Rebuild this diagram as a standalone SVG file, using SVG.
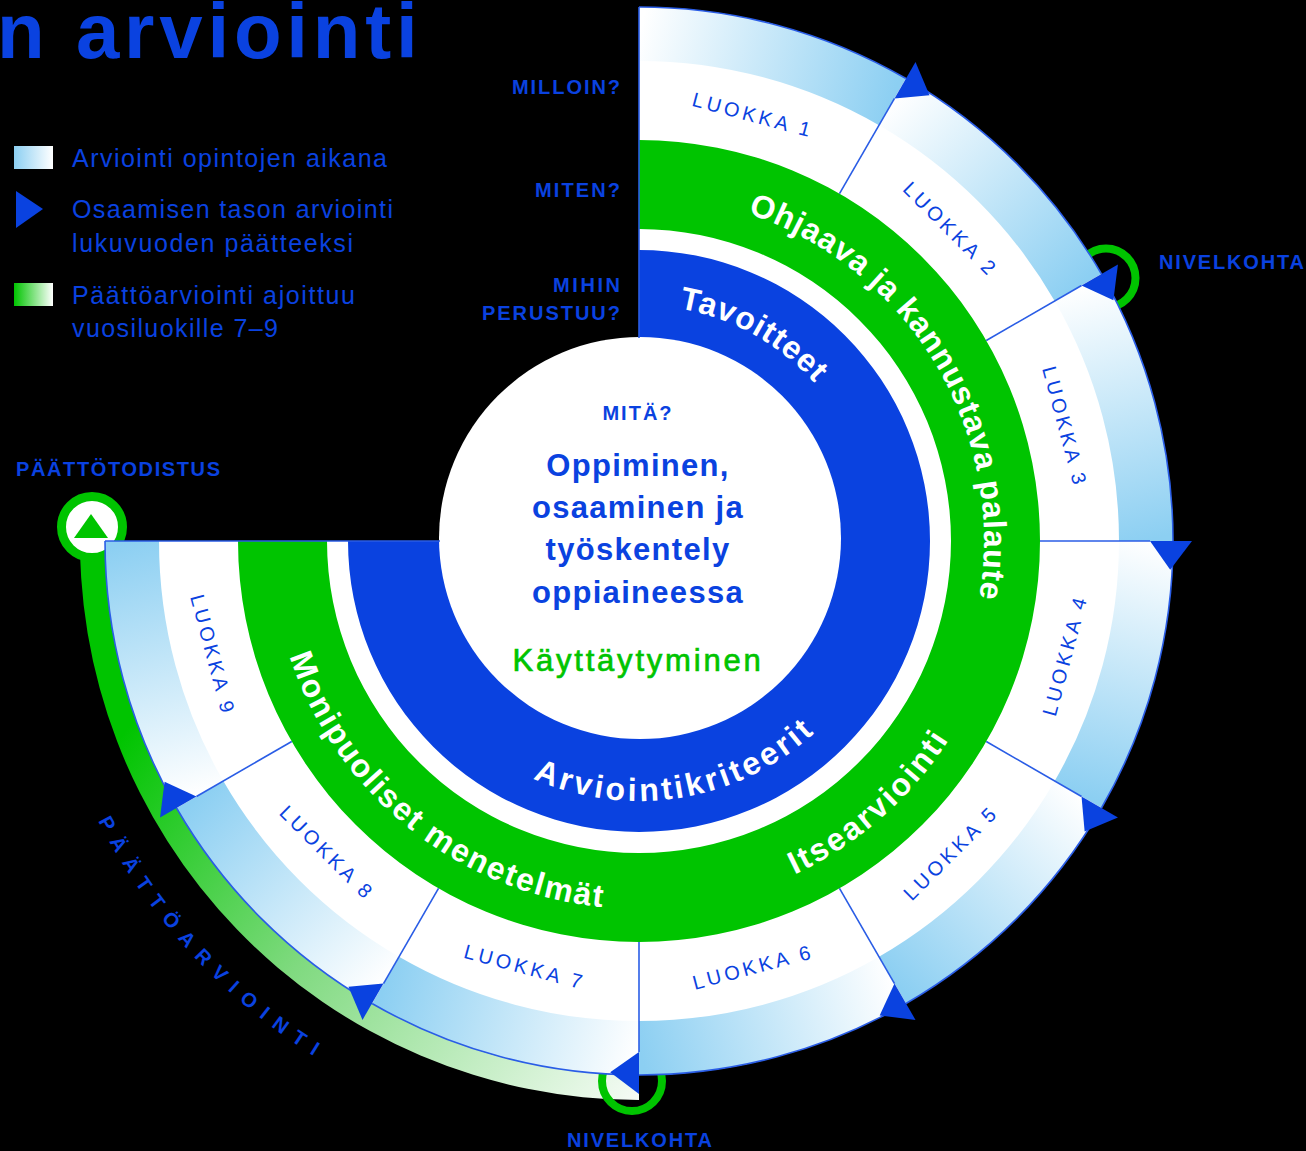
<svg xmlns="http://www.w3.org/2000/svg" width="1306" height="1151" viewBox="0 0 1306 1151">
<defs>
<style>
.lbl{font-family:"Liberation Sans",Arial,sans-serif;font-weight:bold;font-size:20px;fill:#0a42e0}
.leg{font-family:"Liberation Sans",Arial,sans-serif;font-size:25px;fill:#0a42e0}
.luokka{font-family:"Liberation Sans",Arial,sans-serif;font-size:20px;fill:#0a42e0;letter-spacing:3.5px}
.ring{font-family:"Liberation Sans",Arial,sans-serif;font-weight:bold;font-size:32px;fill:#ffffff}
.core{font-family:"Liberation Sans",Arial,sans-serif;font-weight:bold;font-size:31px;fill:#0a42e0;letter-spacing:1.3px}
.div{stroke:#2a5de6;stroke-width:1.6;fill:none}
.tri{fill:#0a42e0}
</style>
<linearGradient id="segGrad" gradientUnits="userSpaceOnUse" x1="639" y1="34" x2="892.5" y2="101.9">
<stop offset="0" stop-color="#ffffff"/><stop offset="1" stop-color="#8ccff2"/>
</linearGradient>
<linearGradient id="finalGrad" gradientUnits="userSpaceOnUse" x1="150" y1="700" x2="640" y2="1090">
<stop offset="0" stop-color="#00c400"/><stop offset="0.45" stop-color="#80da80"/><stop offset="1" stop-color="#f4fbf4"/>
</linearGradient>
<linearGradient id="legBlue" x1="0" y1="0" x2="1" y2="0"><stop offset="0" stop-color="#8ccff2"/><stop offset="1" stop-color="#ffffff"/></linearGradient>
<linearGradient id="legGreen" x1="0" y1="0" x2="1" y2="0"><stop offset="0" stop-color="#00c400"/><stop offset="1" stop-color="#ffffff"/></linearGradient>
<g id="seg">
<path d="M639,7 A534,534 0 0 1 906,78.54 L836.5,198.92 A395,395 0 0 0 639,146 Z" fill="#ffffff"/>
<path d="M639,7 A534,534 0 0 1 906,78.54 L879,125.31 A480,480 0 0 0 639,61 Z" fill="url(#segGrad)"/>
<path d="M639,7 A534,534 0 0 1 906,78.54" class="div"/>
</g>
<line id="divLine" x1="1040" y1="541" x2="1150" y2="541" class="div"/>
<polygon id="tri" points="1150,541 1192,541 1170.2,569.8" class="tri"/>
<path id="tpTav" d="M517.5,338.7 A236,236 0 0 1 875,536.9"/>
<path id="tpOhj" d="M573.2,202.3 A345,345 0 0 1 907.1,758.1"/>
<path id="tpArv" d="M412.7,669 A260,260 0 0 0 894.7,588.4"/>
<path id="tpIts" d="M462.3,863.8 A368,368 0 0 0 981.9,407.3"/>
<path id="tpMon" d="M290.2,423.6 A368,368 0 0 0 830.7,855.1"/>
<path id="tpFin" d="M96.4,264.5 A609,609 0 0 0 876.9,1101.6"/>
</defs>

<rect width="1306" height="1151" fill="#000000"/>

<g id="title">
<text x="-3" y="58" font-family="Liberation Sans, Arial, sans-serif" font-weight="bold" font-size="78" letter-spacing="4.8" fill="#0a42e0">n arviointi</text>
</g>

<g id="legend">
<rect x="14" y="146" width="39" height="23" fill="url(#legBlue)"/>
<text class="leg" x="72" y="167" textLength="315" lengthAdjust="spacing">Arviointi opintojen aikana</text>
<polygon points="16,191 43,209 16,228" class="tri"/>
<text class="leg" x="72" y="218" textLength="321" lengthAdjust="spacing">Osaamisen tason arviointi</text>
<text class="leg" x="72" y="252" textLength="281" lengthAdjust="spacing">lukuvuoden päätteeksi</text>
<rect x="14" y="283" width="39" height="23" fill="url(#legGreen)"/>
<text class="leg" x="72" y="304" textLength="283" lengthAdjust="spacing">Päättöarviointi ajoittuu</text>
<text class="leg" x="72" y="337" textLength="206" lengthAdjust="spacing">vuosiluokille 7–9</text>
</g>

<g id="questions">
<text class="lbl" x="512" y="94" textLength="108" lengthAdjust="spacing">MILLOIN?</text>
<text class="lbl" x="535" y="197" textLength="85" lengthAdjust="spacing">MITEN?</text>
<text class="lbl" x="553" y="292" textLength="67" lengthAdjust="spacing">MIHIN</text>
<text class="lbl" x="482" y="320" textLength="138" lengthAdjust="spacing">PERUSTUU?</text>
</g>

<g id="paattoarviointi">
<path d="M639,1100 A559,559 0 0 1 80.3,521.5 L105.3,522.4 A534,534 0 0 0 639,1075 Z" fill="url(#finalGrad)"/>
<text class="lbl" letter-spacing="10" text-anchor="middle"><textPath href="#tpFin" startOffset="50%">PÄÄTTÖARVIOINTI</textPath></text>
</g>

<g id="nivelkohta-1">
<circle cx="1106" cy="278" r="29.5" fill="none" stroke="#00c400" stroke-width="8"/>
<text class="lbl" x="1159" y="269" textLength="145" lengthAdjust="spacing">NIVELKOHTA</text>
</g>
<g id="nivelkohta-2">
<circle cx="632" cy="1081" r="30" fill="none" stroke="#00c400" stroke-width="8"/>
<text class="lbl" x="567" y="1147" textLength="145" lengthAdjust="spacing">NIVELKOHTA</text>
</g>
<g id="paattotodistus">
<circle cx="92" cy="527" r="30.5" fill="#ffffff" stroke="#00c400" stroke-width="9"/>
<polygon points="74,538 91,514 108,538" fill="#00c400"/>
<text class="lbl" x="16" y="476" textLength="204" lengthAdjust="spacing">PÄÄTTÖTODISTUS</text>
</g>

<g id="luokka-1"><use href="#seg"/><text class="luokka" x="753.1" y="115" text-anchor="middle" dominant-baseline="central" transform="rotate(15 753.1 115)">LUOKKA 1</text></g>
<g id="luokka-2"><use href="#seg" transform="rotate(30 639 541)"/><text class="luokka" x="950.8" y="229.2" text-anchor="middle" dominant-baseline="central" transform="rotate(45 950.8 229.2)">LUOKKA 2</text></g>
<g id="luokka-3"><use href="#seg" transform="rotate(60 639 541)"/><text class="luokka" x="1065" y="426.9" text-anchor="middle" dominant-baseline="central" transform="rotate(75 1065 426.9)">LUOKKA 3</text></g>
<g id="luokka-4"><use href="#seg" transform="rotate(90 639 541)"/><text class="luokka" x="1065" y="655.1" text-anchor="middle" dominant-baseline="central" transform="rotate(-75 1065 655.1)">LUOKKA 4</text></g>
<g id="luokka-5"><use href="#seg" transform="rotate(120 639 541)"/><text class="luokka" x="950.8" y="852.8" text-anchor="middle" dominant-baseline="central" transform="rotate(-45 950.8 852.8)">LUOKKA 5</text></g>
<g id="luokka-6"><use href="#seg" transform="rotate(150 639 541)"/><text class="luokka" x="753.1" y="967" text-anchor="middle" dominant-baseline="central" transform="rotate(-15 753.1 967)">LUOKKA 6</text></g>
<g id="luokka-7"><use href="#seg" transform="rotate(180 639 541)"/><text class="luokka" x="524.9" y="967" text-anchor="middle" dominant-baseline="central" transform="rotate(15 524.9 967)">LUOKKA 7</text></g>
<g id="luokka-8"><use href="#seg" transform="rotate(210 639 541)"/><text class="luokka" x="327.2" y="852.8" text-anchor="middle" dominant-baseline="central" transform="rotate(45 327.2 852.8)">LUOKKA 8</text></g>
<g id="luokka-9"><use href="#seg" transform="rotate(240 639 541)"/><text class="luokka" x="213" y="655.1" text-anchor="middle" dominant-baseline="central" transform="rotate(75 213 655.1)">LUOKKA 9</text></g>

<g id="ring-menetelmat">
<path d="M639,541 L639,140 A401,401 0 1 1 238,541 Z" fill="#00c400"/>
<text class="ring" letter-spacing="0.8" text-anchor="middle"><textPath href="#tpOhj" startOffset="50%">Ohjaava ja kannustava palaute</textPath></text>
<text class="ring" letter-spacing="2.3" text-anchor="middle"><textPath href="#tpIts" startOffset="50%">Itsearviointi</textPath></text>
<text class="ring" letter-spacing="1.8" text-anchor="middle"><textPath href="#tpMon" startOffset="50%">Monipuoliset menetelmät</textPath></text>
</g>
<g id="ring-gap">
<path d="M639,541 L639,229 A312,312 0 1 1 327,541 Z" fill="#ffffff"/>
</g>
<g id="ring-perusteet">
<path d="M639,541 L639,250 A291,291 0 1 1 348,541 Z" fill="#0a42e0"/>
<text class="ring" letter-spacing="1" text-anchor="middle"><textPath href="#tpTav" startOffset="50%">Tavoitteet</textPath></text>
<text class="ring" font-size="30" letter-spacing="3.2" text-anchor="middle"><textPath href="#tpArv" startOffset="50%">Arviointikriteerit</textPath></text>
</g>

<g id="core">
<circle cx="640" cy="538" r="201" fill="#ffffff"/>
<text class="lbl" x="638" y="420" text-anchor="middle" letter-spacing="2">MITÄ?</text>
<text class="core" x="638" y="476" text-anchor="middle">Oppiminen,</text>
<text class="core" x="638" y="518" text-anchor="middle">osaaminen ja</text>
<text class="core" x="638" y="560" text-anchor="middle">työskentely</text>
<text class="core" x="638" y="603" text-anchor="middle">oppiaineessa</text>
<text x="638" y="671" text-anchor="middle" font-family="Liberation Sans, Arial, sans-serif" font-size="31" letter-spacing="2.8" fill="#00c400" stroke="#00c400" stroke-width="0.7">Käyttäytyminen</text>
</g>

<g id="connectors">
<line x1="639" y1="7" x2="639" y2="338" class="div"/>
<line x1="105" y1="541" x2="440" y2="541" class="div"/>
<use href="#divLine" transform="rotate(-60 639 541)"/>
<use href="#divLine" transform="rotate(-30 639 541)"/>
<use href="#divLine"/>
<use href="#divLine" transform="rotate(30 639 541)"/>
<use href="#divLine" transform="rotate(60 639 541)"/>
<use href="#divLine" transform="rotate(90 639 541)"/>
<use href="#divLine" transform="rotate(120 639 541)"/>
<use href="#divLine" transform="rotate(150 639 541)"/>
</g>

<g id="year-end-markers">
<use href="#tri" transform="rotate(-60 639 541)"/>
<use href="#tri" transform="rotate(-30 639 541)"/>
<use href="#tri"/>
<use href="#tri" transform="rotate(30 639 541)"/>
<use href="#tri" transform="rotate(60 639 541)"/>
<use href="#tri" transform="rotate(90 639 541)"/>
<use href="#tri" transform="rotate(120 639 541)"/>
<use href="#tri" transform="rotate(150 639 541)"/>
</g>
</svg>
